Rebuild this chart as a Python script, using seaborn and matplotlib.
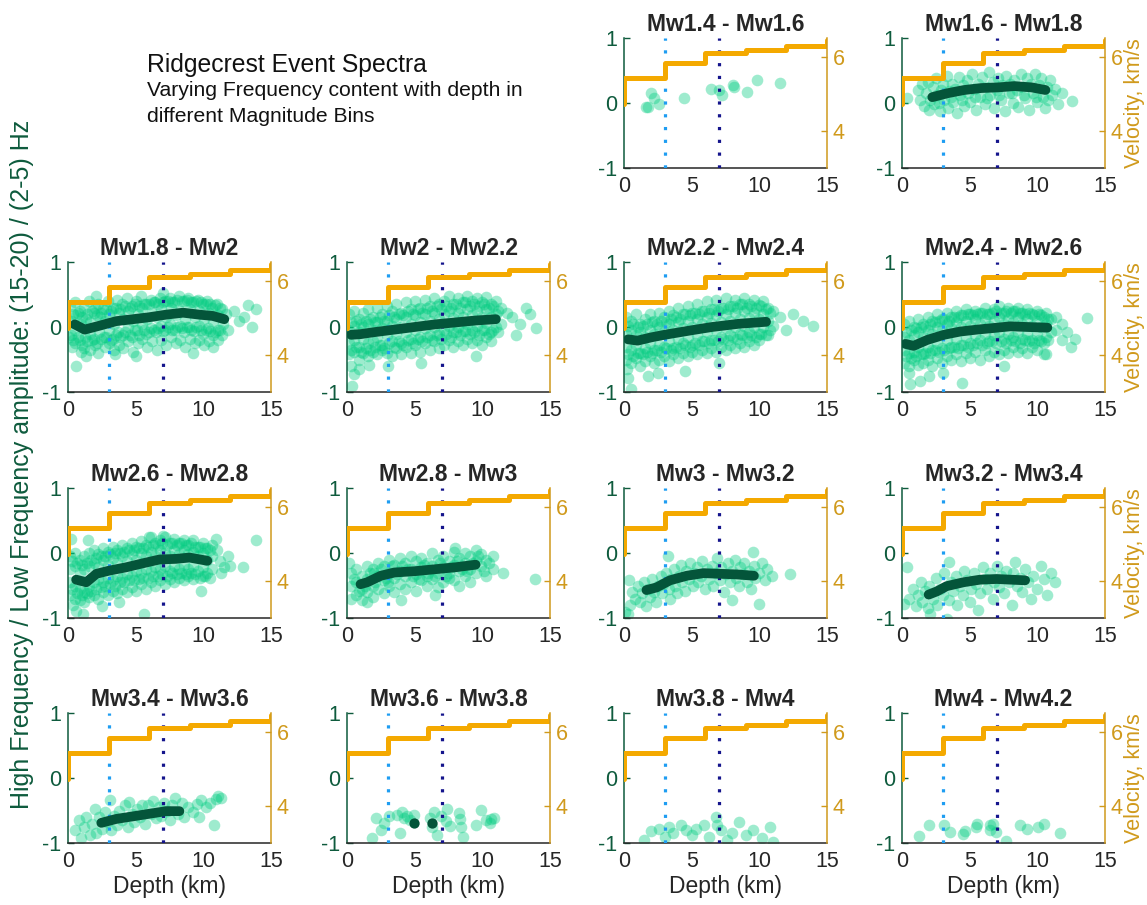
import matplotlib
matplotlib.use("Agg")
import matplotlib.pyplot as plt
import seaborn as sns
import pandas as pd

sns.set_style("white")
plt.rcParams["font.family"] = ["Liberation Sans", "DejaVu Sans"]

# ---- magnitude bins -------------------------------------------------------
bins = ["Mw1.4 - Mw1.6", "Mw1.6 - Mw1.8", "Mw1.8 - Mw2", "Mw2 - Mw2.2",
        "Mw2.2 - Mw2.4", "Mw2.4 - Mw2.6", "Mw2.6 - Mw2.8", "Mw2.8 - Mw3",
        "Mw3 - Mw3.2", "Mw3.2 - Mw3.4", "Mw3.4 - Mw3.6", "Mw3.6 - Mw3.8",
        "Mw3.8 - Mw4", "Mw4 - Mw4.2"]

# ---- 1-D velocity model (depth km, Vp km/s) ---------------------------------
vel_depth = [0, 0, 3, 6, 9, 12, 15]
vel_kms = [4.73, 5.42, 5.82, 6.10, 6.18, 6.29, 6.45]

# ---- event spectral ratios: (depth km, HF/LF ratio) ------------------------
cloud_14 = [(1.61, -0.06), (2.02, 0.15), (2.24, 0.08), (2.6, -0.01), (1.75, -0.06),
            (4.44, 0.07), (6.45, 0.21), (7.0, 0.2), (7.26, 0.12), (8.06, 0.28),
            (8.15, 0.24), (9.06, 0.17), (9.8, 0.36), (11.56, 0.31)]

cloud_16 = [(0.37, 0.08), (12.56, 0.03), (1.2, 0.2), (1.3, 0.05), (1.5, 0.3), (1.6, -0.05),
            (1.8, 0.15), (1.9, 0.32), (2.0, -0.1), (2.1, 0.05), (2.3, 0.25), (2.4, -0.02),
            (2.5, 0.38), (2.6, 0.12), (2.8, -0.12), (2.9, 0.2), (3.0, 0.3), (3.1, 0.05),
            (3.3, 0.42), (3.4, -0.08), (3.5, 0.18), (3.7, 0.3), (3.8, 0.02), (3.9, 0.22),
            (4.1, -0.15), (4.2, 0.4), (4.3, 0.12), (4.5, 0.28), (4.6, -0.05), (4.8, 0.35),
            (4.9, 0.15), (5.0, 0.02), (5.2, 0.45), (5.3, 0.22), (5.5, -0.1), (5.6, 0.3),
            (5.8, 0.1), (5.9, 0.4), (6.1, -0.02), (6.2, 0.25), (6.4, 0.47), (6.5, 0.12),
            (6.7, 0.32), (6.8, -0.08), (7.0, 0.2), (7.1, 0.38), (7.3, 0.05), (7.4, 0.28),
            (7.6, -0.12), (7.7, 0.42), (7.9, 0.15), (8.0, 0.3), (8.2, 0.0), (8.3, 0.36),
            (8.5, 0.2), (8.6, -0.06), (8.8, 0.45), (8.9, 0.25), (9.1, 0.08), (9.2, 0.38),
            (9.4, -0.1), (9.5, 0.3), (9.7, 0.15), (9.8, 0.45), (10.0, 0.02), (10.1, 0.28),
            (10.3, 0.38), (10.4, 0.1), (10.6, -0.08), (10.7, 0.25), (10.9, 0.35),
            (11.1, 0.12), (11.3, 0.22), (11.5, -0.02), (11.8, 0.15),
            (2.7, 0.0), (3.6, 0.1), (4.4, 0.05), (5.4, 0.1), (6.3, 0.08), (7.2, 0.12),
            (8.1, 0.15), (9.0, 0.12), (9.9, 0.1), (10.8, 0.05)]

cloud_18 = [(0.15, 0.32), (0.25, 0.1), (0.2, -0.12), (0.3, -0.3), (0.5, 0.38), (0.6, 0.18),
            (0.55, -0.05), (0.5, -0.25), (0.85, 0.25), (0.95, 0.05), (0.9, -0.2), (0.95, -0.38),
            (1.2, 0.3), (1.3, 0.12), (1.25, -0.15), (1.2, -0.32), (1.55, 0.4), (1.65, 0.08),
            (1.6, -0.1), (1.65, -0.35), (1.9, 0.22), (2.0, 0.3), (1.95, -0.18), (2.0, -0.28),
            (2.25, 0.35), (2.35, 0.15), (2.3, -0.08), (2.25, -0.4), (2.6, 0.28), (2.7, 0.1),
            (2.65, -0.15), (2.7, -0.3), (2.95, 0.4), (3.05, 0.2), (3.0, -0.05), (3.05, -0.25),
            (3.3, 0.3), (3.4, 0.05), (3.35, -0.18), (3.4, -0.35), (3.65, 0.42), (3.75, 0.22),
            (3.7, -0.08), (3.75, -0.28), (4.0, 0.35), (4.1, 0.12), (4.05, -0.12), (4.1, -0.32),
            (4.35, 0.45), (4.45, 0.25), (4.4, 0.0), (4.45, -0.22), (4.7, 0.32), (4.8, 0.1),
            (4.75, -0.15), (4.8, -0.38), (5.05, 0.4), (5.15, 0.2), (5.1, -0.05), (5.15, -0.25),
            (5.4, 0.48), (5.5, 0.3), (5.45, 0.05), (5.5, -0.18), (5.75, 0.35), (5.85, 0.12),
            (5.8, -0.1), (5.85, -0.3), (6.1, 0.42), (6.2, 0.22), (6.15, -0.02), (6.2, -0.22),
            (6.45, 0.38), (6.55, 0.15), (6.5, -0.08), (6.55, -0.35), (6.8, 0.45), (6.9, 0.28),
            (6.85, 0.02), (6.9, -0.2), (7.15, 0.4), (7.25, 0.15), (7.2, -0.05), (7.25, -0.28),
            (7.5, 0.45), (7.6, 0.3), (7.55, 0.05), (7.6, -0.15), (7.85, 0.38), (7.95, 0.18),
            (7.9, -0.04), (7.95, -0.25), (8.2, 0.48), (8.3, 0.25), (8.25, 0.02), (8.3, -0.2),
            (8.55, 0.4), (8.65, 0.12), (8.6, -0.08), (8.65, -0.3), (8.9, 0.45), (9.0, 0.28),
            (8.95, 0.0), (9.0, -0.18), (9.25, 0.38), (9.35, 0.15), (9.3, -0.06), (9.35, -0.25),
            (9.6, 0.42), (9.7, 0.25), (9.65, 0.02), (9.7, -0.2), (9.95, 0.35), (10.05, 0.12),
            (10.0, -0.1), (10.05, -0.28), (10.3, 0.4), (10.4, 0.22), (10.35, -0.02),
            (10.4, -0.22), (10.65, 0.3), (10.75, 0.1), (10.7, -0.12), (10.75, -0.3),
            (11.0, 0.35), (11.1, 0.18), (11.05, -0.05), (11.1, -0.2), (11.35, 0.28),
            (11.45, 0.05), (11.4, -0.12), (11.7, 0.2), (11.8, -0.05), (0.6, -0.6), (1.35, -0.45),
            (13.3, 0.34), (13.9, 0.27), (13.6, 0.0), (12.6, 0.1), (12.3, 0.25), (13.0, 0.15),
            (0.05, -0.15), (7.0, 0.52), (2.1, 0.47), (3.5, -0.42), (5.0, -0.45), (9.2, -0.4),
            (0.37, 0.2), (0.37, -0.2), (0.72, 0.22), (0.72, -0.15), (1.07, 0.15), (1.07, -0.28),
            (1.42, 0.2), (1.42, -0.22), (1.77, 0.25), (1.77, -0.2), (2.12, 0.18), (2.12, -0.25),
            (2.47, 0.22), (2.47, -0.18), (2.82, 0.28), (2.82, -0.15), (3.17, 0.25), (3.17, -0.2),
            (3.52, 0.3), (3.52, -0.12), (3.87, 0.28), (3.87, -0.15), (4.22, 0.32), (4.22, -0.08),
            (4.57, 0.3), (4.57, -0.12), (4.92, 0.35), (4.92, -0.05), (5.27, 0.32), (5.27, -0.12),
            (5.62, 0.36), (5.62, -0.05), (5.97, 0.35), (5.97, -0.08), (6.32, 0.38), (6.32, -0.05),
            (6.67, 0.36), (6.67, -0.02), (7.02, 0.38), (7.02, -0.06), (7.37, 0.4), (7.37, 0.0),
            (7.72, 0.38), (7.72, -0.04), (8.07, 0.42), (8.07, 0.0), (8.42, 0.4), (8.42, -0.02),
            (8.77, 0.42), (8.77, 0.0), (9.12, 0.38), (9.12, -0.04), (9.47, 0.4), (9.47, 0.0),
            (9.82, 0.38), (9.82, -0.05), (10.17, 0.36), (10.17, -0.04), (10.52, 0.35),
            (10.52, -0.06), (10.87, 0.34), (10.87, -0.08), (11.22, 0.3), (11.22, -0.05)]

cloud_20 = [(0.15, 0.2), (0.15, -0.05), (0.15, -0.25), (0.15, -0.42), (0.5, 0.25), (0.5, 0.02),
            (0.5, -0.2), (0.5, -0.38), (0.85, 0.12), (0.85, -0.08), (0.85, -0.3), (0.85, -0.5),
            (1.2, 0.22), (1.2, 0.0), (1.2, -0.18), (1.2, -0.4), (1.55, 0.28), (1.55, 0.05),
            (1.55, -0.25), (1.55, -0.45), (1.9, 0.15), (1.9, -0.05), (1.9, -0.22), (1.9, -0.38),
            (2.25, 0.3), (2.25, 0.08), (2.25, -0.15), (2.25, -0.42), (2.6, 0.2), (2.6, -0.02),
            (2.6, -0.28), (2.6, -0.35), (2.95, 0.32), (2.95, 0.1), (2.95, -0.12), (2.95, -0.4),
            (3.3, 0.25), (3.3, 0.02), (3.3, -0.22), (3.3, -0.45), (3.65, 0.35), (3.65, 0.12),
            (3.65, -0.1), (3.65, -0.32), (4.0, 0.22), (4.0, 0.0), (4.0, -0.25), (4.0, -0.42),
            (4.35, 0.38), (4.35, 0.15), (4.35, -0.08), (4.35, -0.3), (4.7, 0.28), (4.7, 0.05),
            (4.7, -0.18), (4.7, -0.4), (5.05, 0.4), (5.05, 0.18), (5.05, -0.05), (5.05, -0.28),
            (5.4, 0.3), (5.4, 0.08), (5.4, -0.15), (5.4, -0.38), (5.75, 0.42), (5.75, 0.2),
            (5.75, -0.02), (5.75, -0.25), (6.1, 0.32), (6.1, 0.1), (6.1, -0.12), (6.1, -0.35),
            (6.45, 0.45), (6.45, 0.22), (6.45, 0.0), (6.45, -0.22), (6.8, 0.35), (6.8, 0.12),
            (6.8, -0.1), (6.8, -0.32), (7.15, 0.4), (7.15, 0.2), (7.15, -0.04), (7.15, -0.28),
            (7.5, 0.48), (7.5, 0.25), (7.5, 0.02), (7.5, -0.2), (7.85, 0.36), (7.85, 0.14),
            (7.85, -0.08), (7.85, -0.3), (8.2, 0.45), (8.2, 0.22), (8.2, 0.0), (8.2, -0.22),
            (8.55, 0.38), (8.55, 0.15), (8.55, -0.06), (8.55, -0.28), (8.9, 0.48), (8.9, 0.28),
            (8.9, 0.05), (8.9, -0.18), (9.25, 0.4), (9.25, 0.18), (9.25, -0.04), (9.25, -0.25),
            (9.6, 0.45), (9.6, 0.25), (9.6, 0.02), (9.6, -0.2), (9.95, 0.38), (9.95, 0.15),
            (9.95, -0.05), (9.95, -0.28), (10.3, 0.46), (10.3, 0.28), (10.3, 0.06), (10.3, -0.15),
            (10.65, 0.35), (10.65, 0.15), (10.65, -0.08), (10.65, -0.22), (11.0, 0.4),
            (11.0, 0.2), (11.0, 0.0), (11.35, 0.3), (11.35, 0.05), (11.8, 0.22), (12.2, 0.15),
            (12.5, -0.12), (12.8, 0.05), (13.5, 0.2), (14.0, -0.02), (13.2, 0.3), (0.3, -0.6),
            (0.5, -0.72), (0.4, -0.9), (0.9, -0.65), (1.6, -0.58), (3.0, -0.6), (5.5, -0.55),
            (9.5, -0.45),
            (0.32, 0.08), (0.32, -0.35), (0.67, 0.1), (0.67, -0.3), (1.02, 0.05), (1.02, -0.38),
            (1.37, 0.1), (1.37, -0.32), (1.72, 0.12), (1.72, -0.35), (2.07, 0.08), (2.07, -0.3),
            (2.42, 0.15), (2.42, -0.28), (2.77, 0.1), (2.77, -0.32), (3.12, 0.18), (3.12, -0.25),
            (3.47, 0.15), (3.47, -0.3), (3.82, 0.2), (3.82, -0.22), (4.17, 0.18), (4.17, -0.28),
            (4.52, 0.25), (4.52, -0.2), (4.87, 0.2), (4.87, -0.25), (5.22, 0.28), (5.22, -0.18),
            (5.57, 0.22), (5.57, -0.22), (5.92, 0.3), (5.92, -0.15), (6.27, 0.25), (6.27, -0.2),
            (6.62, 0.32), (6.62, -0.12), (6.97, 0.28), (6.97, -0.18), (7.32, 0.32), (7.32, -0.1),
            (7.67, 0.3), (7.67, -0.15), (8.02, 0.35), (8.02, -0.08), (8.37, 0.3), (8.37, -0.12),
            (8.72, 0.38), (8.72, -0.06), (9.07, 0.32), (9.07, -0.1), (9.42, 0.36), (9.42, -0.08),
            (9.77, 0.32), (9.77, -0.12), (10.12, 0.35), (10.12, -0.05), (10.47, 0.3),
            (10.47, -0.1), (10.82, 0.32), (10.82, -0.05), (11.17, 0.25), (11.17, -0.08)]

cloud_22 = [(0.15, 0.15), (0.15, -0.1), (0.15, -0.3), (0.15, -0.5), (0.5, 0.1), (0.5, -0.05),
            (0.5, -0.35), (0.5, -0.55), (0.85, 0.2), (0.85, -0.12), (0.85, -0.28), (0.85, -0.48),
            (1.2, 0.05), (1.2, -0.08), (1.2, -0.4), (1.2, -0.6), (1.55, 0.12), (1.55, -0.15),
            (1.55, -0.32), (1.55, -0.52), (1.9, 0.2), (1.9, -0.05), (1.9, -0.25), (1.9, -0.45),
            (2.25, 0.1), (2.25, -0.1), (2.25, -0.35), (2.25, -0.55), (2.6, 0.22), (2.6, 0.0),
            (2.6, -0.28), (2.6, -0.5), (2.95, 0.15), (2.95, -0.08), (2.95, -0.3), (2.95, -0.45),
            (3.3, 0.25), (3.3, 0.05), (3.3, -0.22), (3.3, -0.52), (3.65, 0.18), (3.65, -0.05),
            (3.65, -0.32), (3.65, -0.42), (4.0, 0.3), (4.0, 0.08), (4.0, -0.18), (4.0, -0.48),
            (4.35, 0.2), (4.35, -0.02), (4.35, -0.25), (4.35, -0.4), (4.7, 0.32), (4.7, 0.1),
            (4.7, -0.15), (4.7, -0.45), (5.05, 0.22), (5.05, 0.0), (5.05, -0.28), (5.05, -0.38),
            (5.4, 0.35), (5.4, 0.12), (5.4, -0.12), (5.4, -0.42), (5.75, 0.25), (5.75, 0.05),
            (5.75, -0.22), (5.75, -0.35), (6.1, 0.4), (6.1, 0.15), (6.1, -0.08), (6.1, -0.4),
            (6.45, 0.28), (6.45, 0.06), (6.45, -0.2), (6.45, -0.32), (6.8, 0.42), (6.8, 0.18),
            (6.8, -0.05), (6.8, -0.38), (7.15, 0.3), (7.15, 0.08), (7.15, -0.15), (7.15, -0.3),
            (7.5, 0.45), (7.5, 0.2), (7.5, -0.02), (7.5, -0.35), (7.85, 0.32), (7.85, 0.1),
            (7.85, -0.12), (7.85, -0.28), (8.2, 0.42), (8.2, 0.22), (8.2, 0.0), (8.2, -0.32),
            (8.55, 0.35), (8.55, 0.12), (8.55, -0.1), (8.55, -0.25), (8.9, 0.45), (8.9, 0.25),
            (8.9, 0.02), (8.9, -0.3), (9.25, 0.36), (9.25, 0.14), (9.25, -0.08), (9.25, -0.22),
            (9.6, 0.42), (9.6, 0.22), (9.6, 0.0), (9.6, -0.28), (9.95, 0.34), (9.95, 0.12),
            (9.95, -0.1), (9.95, -0.2), (10.3, 0.4), (10.3, 0.2), (10.3, 0.0), (10.65, 0.3),
            (10.65, 0.1), (10.65, -0.12), (11.0, 0.25), (11.0, 0.02), (11.5, 0.15), (12.0, -0.05),
            (12.5, 0.2), (13.2, 0.1), (14.0, 0.02), (0.3, -0.78), (0.5, -0.95), (0.2, -0.65),
            (1.8, -0.75), (2.5, -0.7), (4.5, -0.68), (7.0, -0.55),
            (0.32, 0.02), (0.32, -0.42), (0.67, 0.05), (0.67, -0.45), (1.02, 0.0), (1.02, -0.4),
            (1.37, 0.02), (1.37, -0.42), (1.72, 0.05), (1.72, -0.38), (2.07, 0.08), (2.07, -0.4),
            (2.42, 0.05), (2.42, -0.35), (2.77, 0.1), (2.77, -0.38), (3.12, 0.08), (3.12, -0.32),
            (3.47, 0.12), (3.47, -0.35), (3.82, 0.15), (3.82, -0.3), (4.17, 0.12), (4.17, -0.32),
            (4.52, 0.2), (4.52, -0.28), (4.87, 0.18), (4.87, -0.3), (5.22, 0.22), (5.22, -0.25),
            (5.57, 0.2), (5.57, -0.28), (5.92, 0.25), (5.92, -0.22), (6.27, 0.22), (6.27, -0.25),
            (6.62, 0.28), (6.62, -0.2), (6.97, 0.25), (6.97, -0.22), (7.32, 0.3), (7.32, -0.18),
            (7.67, 0.28), (7.67, -0.2), (8.02, 0.32), (8.02, -0.15), (8.37, 0.3), (8.37, -0.18),
            (8.72, 0.35), (8.72, -0.12), (9.07, 0.3), (9.07, -0.15), (9.42, 0.32), (9.42, -0.12),
            (9.77, 0.3), (9.77, -0.15), (10.12, 0.32), (10.12, -0.1), (10.47, 0.28),
            (10.47, -0.12), (10.82, 0.22), (10.82, -0.05)]

cloud_24 = [(0.15, 0.05), (0.15, -0.15), (0.15, -0.35), (0.15, -0.55), (0.5, 0.1), (0.5, -0.2),
            (0.5, -0.4), (0.5, -0.6), (0.85, 0.0), (0.85, -0.12), (0.85, -0.38), (0.85, -0.5),
            (1.2, 0.12), (1.2, -0.08), (1.2, -0.3), (1.2, -0.58), (1.55, 0.05), (1.55, -0.15),
            (1.55, -0.42), (1.55, -0.55), (1.9, 0.15), (1.9, -0.05), (1.9, -0.3), (1.9, -0.5),
            (2.25, 0.1), (2.25, -0.1), (2.25, -0.35), (2.25, -0.6), (2.6, 0.2), (2.6, 0.0),
            (2.6, -0.25), (2.6, -0.48), (2.95, 0.12), (2.95, -0.05), (2.95, -0.32), (2.95, -0.55),
            (3.3, 0.22), (3.3, 0.05), (3.3, -0.2), (3.3, -0.45), (3.65, 0.15), (3.65, -0.02),
            (3.65, -0.3), (3.65, -0.5), (4.0, 0.25), (4.0, 0.08), (4.0, -0.18), (4.0, -0.42),
            (4.35, 0.18), (4.35, 0.0), (4.35, -0.28), (4.35, -0.52), (4.7, 0.28), (4.7, 0.1),
            (4.7, -0.15), (4.7, -0.4), (5.05, 0.2), (5.05, 0.02), (5.05, -0.25), (5.05, -0.48),
            (5.4, 0.25), (5.4, 0.12), (5.4, -0.12), (5.4, -0.38), (5.75, 0.22), (5.75, 0.05),
            (5.75, -0.2), (5.75, -0.5), (6.1, 0.3), (6.1, 0.12), (6.1, -0.1), (6.1, -0.35),
            (6.45, 0.2), (6.45, 0.02), (6.45, -0.22), (6.45, -0.45), (6.8, 0.28), (6.8, 0.1),
            (6.8, -0.12), (6.8, -0.38), (7.15, 0.32), (7.15, 0.15), (7.15, -0.08), (7.15, -0.42),
            (7.5, 0.22), (7.5, 0.05), (7.5, -0.18), (7.5, -0.35), (7.85, 0.3), (7.85, 0.12),
            (7.85, -0.1), (7.85, -0.4), (8.2, 0.25), (8.2, 0.08), (8.2, -0.15), (8.2, -0.3),
            (8.55, 0.3), (8.55, 0.15), (8.55, -0.08), (8.55, -0.38), (8.9, 0.22), (8.9, 0.05),
            (8.9, -0.18), (8.9, -0.32), (9.25, 0.28), (9.25, 0.12), (9.25, -0.1), (9.25, -0.4),
            (9.6, 0.2), (9.6, 0.02), (9.6, -0.2), (9.6, -0.3), (9.95, 0.25), (9.95, 0.1),
            (9.95, -0.12), (9.95, -0.35), (10.3, 0.18), (10.3, 0.0), (10.3, -0.22),
            (10.65, 0.22), (10.65, 0.05), (10.65, -0.15), (10.65, -0.42), (11.0, 0.12),
            (11.0, -0.08), (11.4, 0.15), (11.4, -0.05), (11.8, 0.05), (11.8, -0.2), (12.2, -0.07),
            (12.8, -0.18), (13.7, 0.14), (12.5, -0.3), (0.5, -0.7), (0.6, -0.88), (1.36, -0.83),
            (4.4, -0.86), (10.5, -0.42), (3.0, -0.7), (2.0, -0.75), (7.5, -0.6),
            (0.32, -0.08), (0.32, -0.45), (0.67, -0.05), (0.67, -0.48), (1.02, -0.02),
            (1.02, -0.45), (1.37, 0.0), (1.37, -0.42), (1.72, 0.02), (1.72, -0.4), (2.07, 0.05),
            (2.07, -0.4), (2.42, 0.08), (2.42, -0.35), (2.77, 0.1), (2.77, -0.38), (3.12, 0.12),
            (3.12, -0.35), (3.47, 0.1), (3.47, -0.32), (3.82, 0.15), (3.82, -0.3), (4.17, 0.15),
            (4.17, -0.32), (4.52, 0.18), (4.52, -0.28), (4.87, 0.2), (4.87, -0.3), (5.22, 0.18),
            (5.22, -0.28), (5.57, 0.2), (5.57, -0.25), (5.92, 0.22), (5.92, -0.28), (6.27, 0.2),
            (6.27, -0.25), (6.62, 0.22), (6.62, -0.22), (6.97, 0.24), (6.97, -0.25), (7.32, 0.22),
            (7.32, -0.22), (7.67, 0.25), (7.67, -0.25), (8.02, 0.22), (8.02, -0.2), (8.37, 0.25),
            (8.37, -0.22), (8.72, 0.22), (8.72, -0.25), (9.07, 0.2), (9.07, -0.2), (9.42, 0.22),
            (9.42, -0.22), (9.77, 0.18), (9.77, -0.25), (10.12, 0.2), (10.12, -0.2),
            (10.47, 0.15), (10.47, -0.25), (10.82, 0.12), (10.82, -0.2)]

cloud_26 = [(0.15, -0.05), (0.15, -0.25), (0.15, -0.45), (0.15, -0.65), (0.5, 0.0), (0.5, -0.2),
            (0.5, -0.5), (0.5, -0.7), (0.85, -0.1), (0.85, -0.3), (0.85, -0.55), (0.85, -0.72),
            (1.2, -0.05), (1.2, -0.25), (1.2, -0.6), (1.2, -0.75), (1.55, 0.0), (1.55, -0.2),
            (1.55, -0.5), (1.55, -0.68), (1.9, 0.05), (1.9, -0.15), (1.9, -0.45), (1.9, -0.65),
            (2.25, -0.02), (2.25, -0.22), (2.25, -0.4), (2.25, -0.7), (2.6, 0.08), (2.6, -0.1),
            (2.6, -0.45), (2.6, -0.6), (2.95, 0.02), (2.95, -0.18), (2.95, -0.38), (2.95, -0.65),
            (3.3, 0.1), (3.3, -0.08), (3.3, -0.42), (3.3, -0.58), (3.65, 0.05), (3.65, -0.15),
            (3.65, -0.35), (3.65, -0.62), (4.0, 0.12), (4.0, -0.05), (4.0, -0.38), (4.0, -0.55),
            (4.35, 0.08), (4.35, -0.12), (4.35, -0.32), (4.35, -0.6), (4.7, 0.15), (4.7, -0.02),
            (4.7, -0.35), (4.7, -0.52), (5.05, 0.1), (5.05, -0.1), (5.05, -0.28), (5.05, -0.58),
            (5.4, 0.18), (5.4, 0.0), (5.4, -0.3), (5.4, -0.48), (5.75, 0.12), (5.75, -0.05),
            (5.75, -0.25), (5.75, -0.55), (6.1, 0.24), (6.1, 0.02), (6.1, -0.28), (6.1, -0.45),
            (6.45, 0.15), (6.45, -0.05), (6.45, -0.22), (6.45, -0.5), (6.8, 0.2), (6.8, 0.05),
            (6.8, -0.25), (6.8, -0.42), (7.15, 0.25), (7.15, 0.0), (7.15, -0.2), (7.15, -0.48),
            (7.5, 0.15), (7.5, -0.05), (7.5, -0.28), (7.5, -0.4), (7.85, 0.22), (7.85, 0.05),
            (7.85, -0.2), (7.85, -0.45), (8.2, 0.15), (8.2, -0.02), (8.2, -0.25), (8.2, -0.38),
            (8.55, 0.2), (8.55, 0.05), (8.55, -0.18), (8.55, -0.42), (8.9, 0.12), (8.9, -0.02),
            (8.9, -0.25), (8.9, -0.35), (9.25, 0.2), (9.25, 0.02), (9.25, -0.2), (9.25, -0.4),
            (9.6, 0.1), (9.6, -0.05), (9.6, -0.28), (9.95, 0.15), (9.95, 0.0), (9.95, -0.22),
            (9.95, -0.35), (10.3, 0.08), (10.3, -0.1), (10.3, -0.3), (10.65, 0.12), (10.65, -0.05),
            (10.65, -0.25), (10.9, 0.22), (11.0, 0.05), (11.2, -0.12), (11.5, -0.22),
            (11.3, -0.3), (11.8, -0.05), (12.0, -0.2), (12.9, -0.22), (13.9, 0.2), (0.25, 0.22),
            (1.47, 0.2), (6.0, 0.24), (7.0, 0.26), (9.8, -0.58), (5.65, -0.94), (0.6, -0.89),
            (1.1, -0.94), (0.4, -0.8), (2.5, -0.82), (3.8, -0.75),
            (0.32, -0.12), (0.32, -0.55), (0.67, -0.15), (0.67, -0.62), (1.02, -0.18),
            (1.02, -0.65), (1.37, -0.15), (1.37, -0.62), (1.72, -0.1), (1.72, -0.58),
            (2.07, -0.08), (2.07, -0.55), (2.42, -0.05), (2.42, -0.52), (2.77, -0.05),
            (2.77, -0.5), (3.12, -0.02), (3.12, -0.48), (3.47, 0.0), (3.47, -0.5), (3.82, 0.0),
            (3.82, -0.45), (4.17, 0.02), (4.17, -0.45), (4.52, 0.05), (4.52, -0.42), (4.87, 0.05),
            (4.87, -0.42), (5.22, 0.08), (5.22, -0.4), (5.57, 0.08), (5.57, -0.38), (5.92, 0.1),
            (5.92, -0.38), (6.27, 0.12), (6.27, -0.35), (6.62, 0.12), (6.62, -0.35), (6.97, 0.15),
            (6.97, -0.32), (7.32, 0.12), (7.32, -0.35), (7.67, 0.15), (7.67, -0.3), (8.02, 0.12),
            (8.02, -0.32), (8.37, 0.15), (8.37, -0.3), (8.72, 0.12), (8.72, -0.32), (9.07, 0.15),
            (9.07, -0.3), (9.42, 0.1), (9.42, -0.32), (9.77, 0.1), (9.77, -0.38), (10.12, 0.08),
            (10.12, -0.35), (10.47, 0.05), (10.47, -0.38)]

cloud_28 = [(0.3, -0.3), (0.3, -0.5), (0.3, -0.7), (0.7, -0.25), (0.7, -0.45), (0.7, -0.65),
            (1.1, -0.35), (1.1, -0.55), (1.1, -0.72), (1.5, -0.2), (1.5, -0.4), (1.5, -0.6),
            (1.9, -0.25), (1.9, -0.5), (1.9, -0.68), (2.3, -0.15), (2.3, -0.35), (2.3, -0.55),
            (2.7, -0.2), (2.7, -0.42), (2.7, -0.62), (3.1, -0.1), (3.1, -0.3), (3.1, -0.5),
            (3.5, -0.18), (3.5, -0.38), (3.5, -0.6), (3.9, -0.08), (3.9, -0.28), (3.9, -0.48),
            (4.3, -0.15), (4.3, -0.35), (4.3, -0.55), (4.7, -0.05), (4.7, -0.25), (4.7, -0.45),
            (5.1, -0.12), (5.1, -0.32), (5.1, -0.58), (5.5, -0.08), (5.5, -0.22), (5.5, -0.42),
            (5.9, -0.15), (5.9, -0.35), (5.9, -0.5), (6.3, 0.0), (6.3, -0.2), (6.3, -0.4),
            (6.7, -0.1), (6.7, -0.3), (6.7, -0.52), (7.1, -0.05), (7.1, -0.22), (7.1, -0.45),
            (7.5, -0.12), (7.5, -0.3), (7.5, -0.38), (7.9, 0.02), (7.9, -0.18), (7.9, -0.42),
            (8.3, -0.08), (8.3, -0.28), (8.3, -0.5), (8.7, 0.0), (8.7, -0.15), (8.7, -0.35),
            (9.1, -0.05), (9.1, -0.25), (9.1, -0.45), (9.5, 0.05), (9.5, -0.12), (9.5, -0.3),
            (9.9, -0.02), (9.9, -0.2), (10.3, -0.1), (10.3, -0.35), (10.8, -0.05), (10.8, -0.25),
            (11.5, -0.3), (13.9, -0.4), (0.15, -0.15), (1.5, -0.75), (4.0, -0.72), (6.5, -0.65),
            (8.0, 0.08), (2.0, -0.3), (3.0, -0.45), (4.5, -0.25), (5.3, -0.4), (6.0, -0.3),
            (7.3, -0.35), (8.5, -0.25), (9.3, -0.15),
            (0.5, -0.4), (0.9, -0.58), (1.3, -0.5), (1.7, -0.3), (2.1, -0.45), (2.5, -0.25),
            (2.9, -0.38), (3.3, -0.2), (3.7, -0.32), (4.1, -0.2), (4.9, -0.35), (5.7, -0.18),
            (6.5, -0.35), (6.9, -0.15), (7.7, -0.22), (8.1, -0.12), (8.9, -0.28), (9.7, -0.05),
            (10.1, -0.28), (10.5, -0.15)]

cloud_30 = [(0.05, -0.9), (0.3, -0.94), (0.42, -0.8), (0.37, -0.42), (0.6, -0.6), (0.8, -0.7),
            (1.0, -0.5), (1.2, -0.75), (1.3, -0.62), (1.5, -0.45), (1.6, -0.82), (1.8, -0.55),
            (1.9, -0.68), (2.1, -0.4), (2.2, -0.6), (2.4, -0.75), (2.5, -0.5), (2.7, -0.35),
            (2.8, -0.62), (2.9, -0.48), (3.1, -0.3), (3.25, -0.04), (3.3, -0.55), (3.4, -0.7),
            (3.5, -0.4), (3.7, -0.25), (3.8, -0.5), (3.9, -0.62), (4.1, -0.35), (4.2, -0.18),
            (4.3, -0.45), (4.5, -0.58), (4.6, -0.28), (4.8, -0.4), (4.9, -0.15), (5.1, -0.5),
            (5.2, -0.3), (5.4, -0.22), (5.5, -0.45), (5.7, -0.35), (5.8, -0.12), (6.0, -0.55),
            (6.1, -0.25), (6.3, -0.4), (6.5, -0.2), (6.6, -0.5), (6.8, -0.3), (6.9, -0.08),
            (7.1, -0.42), (7.2, -0.22), (7.4, -0.6), (7.5, -0.32), (7.7, -0.15), (7.8, -0.45),
            (8.0, -0.73), (8.0, -0.28), (8.2, -0.1), (8.3, -0.38), (8.5, -0.5), (8.6, -0.22),
            (8.8, -0.32), (8.9, -0.15), (9.1, -0.45), (9.2, -0.28), (9.4, -0.55), (9.5, 0.02),
            (9.6, -0.2), (9.7, -0.38), (9.97, -0.78), (10.0, -0.3), (10.2, -0.15), (10.4, -0.42),
            (10.6, -0.25), (10.9, -0.35), (12.3, -0.32)]

cloud_32 = [(0.12, -0.79), (0.37, -0.21), (0.5, -0.7), (0.8, -0.55), (1.0, -0.82), (1.2, -0.65),
            (1.4, -0.45), (1.5, -0.75), (1.7, -0.58), (1.9, -0.85), (2.1, -0.94), (2.0, -0.5),
            (2.3, -0.7), (2.5, -0.38), (2.6, -0.8), (2.8, -0.55), (3.0, -0.65), (3.1, -0.3),
            (3.3, -1.02), (3.44, -0.14), (3.5, -0.72), (3.6, -0.45), (3.8, -0.58), (4.0, -0.35),
            (4.1, -0.8), (4.3, -0.5), (4.5, -0.65), (4.6, -0.28), (4.8, -0.42), (5.0, -0.75),
            (5.1, -0.55), (5.3, -0.3), (5.5, -0.48), (5.6, -0.88), (5.8, -0.62), (6.0, -0.22),
            (6.1, -0.4), (6.3, -0.55), (6.5, -0.3), (6.7, -0.7), (6.8, -0.45), (7.0, -0.2),
            (7.2, -0.52), (7.3, -0.35), (7.5, -0.62), (7.7, -0.28), (7.9, -0.45), (8.1, -0.8),
            (8.2, -0.3), (8.36, -0.14), (8.5, -0.5), (8.7, -0.38), (8.9, -0.6), (9.1, -0.25),
            (9.3, -0.45), (9.5, -0.7), (9.7, -0.35), (10.0, -0.55), (10.3, -0.2), (10.5, -0.4),
            (10.7, -0.65), (11.0, -0.3), (11.3, -0.45)]

cloud_34 = [(0.49, -0.8), (0.98, -0.93), (1.6, -0.88), (1.35, -0.6), (1.97, -0.47), (0.8, -0.65),
            (1.2, -0.75), (1.8, -0.7), (2.1, -0.85), (2.3, -0.6), (2.5, -0.78), (2.7, -0.52),
            (2.9, -0.68), (3.07, -0.34), (3.2, -0.8), (3.4, -0.58), (3.6, -0.72), (3.8, -0.5),
            (4.0, -0.65), (4.2, -0.42), (4.5, -0.37), (4.4, -0.75), (4.7, -0.55), (4.9, -0.68),
            (5.1, -0.48), (5.3, -0.6), (5.5, -0.42), (5.7, -0.7), (5.9, -0.42), (6.1, -0.55),
            (6.3, -0.35), (6.5, -0.62), (6.7, -0.45), (6.9, -0.58), (7.1, -0.38), (7.3, -0.5),
            (7.5, -0.65), (7.7, -0.42), (7.9, -0.3), (8.1, -0.55), (8.4, -0.38), (8.6, -0.6),
            (8.9, -0.45), (9.2, -0.52), (9.5, -0.4), (9.7, -0.6), (9.8, -0.34), (10.2, -0.45),
            (10.5, -0.38), (10.8, -0.73), (10.9, -0.32), (11.1, -0.28), (11.3, -0.3)]

cloud_36 = [(1.85, -0.92), (2.17, -0.62), (2.52, -0.8), (2.77, -0.69), (3.09, -0.59),
            (3.7, -0.57), (3.95, -0.85), (4.07, -0.52), (4.44, -0.59), (4.69, -0.64),
            (4.94, -0.57), (6.3, -0.75), (6.42, -0.52), (6.62, -0.87), (6.91, -0.59),
            (7.4, -0.47), (7.6, -0.74), (8.27, -0.54), (8.35, -0.63), (8.4, -0.76), (8.6, -0.9),
            (9.5, -0.73), (9.93, -0.49), (10.25, -0.65), (10.67, -0.63), (10.86, -0.61),
            (10.56, -0.69), (6.1, -0.62), (7.3, -0.66), (4.2, -0.62)]

cloud_38 = [(1.5, -0.95), (2.0, -0.82), (2.6, -0.78), (3.0, -0.9), (3.3, -0.75), (3.6, -0.85),
            (4.2, -0.72), (4.6, -0.8), (5.0, -0.88), (5.3, -0.78), (5.9, -0.72), (6.3, -0.9),
            (6.8, -0.6), (6.9, -0.72), (7.2, -0.8), (7.6, -0.95), (8.0, -0.85), (8.5, -0.68),
            (9.0, -0.88), (9.5, -0.8), (10.2, -0.92), (10.8, -0.75), (11.0, -0.98)]

cloud_40 = [(1.23, -0.89), (1.97, -0.73), (3.12, -0.72), (3.57, -0.83), (4.5, -0.86),
            (4.67, -0.82), (5.48, -0.76), (5.53, -0.7), (6.47, -0.73), (6.47, -0.8), (6.7, -0.7),
            (6.96, -0.83), (7.7, -0.97), (8.73, -0.73), (9.2, -0.78), (10.08, -0.75),
            (10.5, -0.7), (11.68, -0.85)]

# ---- running median of the ratio with depth --------------------------------
trend_14 = []
trend_16 = [(2.24, 0.09), (3.36, 0.15), (4.6, 0.2), (5.85, 0.23), (7.1, 0.24), (8.3, 0.26),
            (9.58, 0.24), (10.6, 0.2)]
trend_18 = [(0.5, 0.04), (1.23, -0.04), (2.33, 0.02), (3.56, 0.09), (4.8, 0.12), (6.0, 0.15),
            (7.25, 0.19), (8.5, 0.22), (9.7, 0.19), (10.7, 0.17), (11.55, 0.12)]
trend_20 = [(0.3, -0.12), (1.0, -0.11), (2.0, -0.08), (3.5, -0.04), (5.0, 0.0), (6.5, 0.04),
            (8.0, 0.07), (9.5, 0.1), (11.0, 0.12)]
trend_22 = [(0.3, -0.19), (1.0, -0.21), (2.0, -0.16), (3.0, -0.12), (5.0, -0.05), (6.5, 0.0),
            (8.5, 0.05), (10.5, 0.08)]
trend_24 = [(0.25, -0.26), (0.86, -0.29), (1.85, -0.2), (3.1, -0.12), (4.3, -0.07),
            (5.55, -0.04), (6.8, -0.015), (8.0, 0.01), (9.26, 0.0), (10.74, -0.01)]
trend_26 = [(0.6, -0.41), (1.35, -0.45), (2.1, -0.32), (3.07, -0.27), (4.3, -0.22),
            (5.5, -0.16), (6.76, -0.1), (8.0, -0.09), (8.97, -0.07), (10.3, -0.12)]
trend_28 = [(1.0, -0.48), (1.5, -0.45), (2.5, -0.35), (3.5, -0.3), (5.0, -0.28),
            (6.5, -0.25), (8.0, -0.22), (9.5, -0.18)]
trend_30 = [(1.66, -0.57), (2.4, -0.53), (3.4, -0.42), (4.64, -0.35), (5.88, -0.31),
            (7.1, -0.32), (8.36, -0.33), (9.6, -0.35)]
trend_32 = [(1.97, -0.64), (2.58, -0.59), (3.3, -0.51), (4.55, -0.45), (5.78, -0.41),
            (7.0, -0.4), (8.0, -0.41), (9.1, -0.42)]
trend_34 = [(2.46, -0.69), (3.56, -0.63), (4.8, -0.59), (6.02, -0.55), (7.25, -0.51),
            (8.23, -0.51)]
trend_36 = [(4.94, -0.69), (6.3, -0.69)]
trend_38 = []
trend_40 = []

clouds = [cloud_14, cloud_16, cloud_18, cloud_20, cloud_22, cloud_24, cloud_26,
          cloud_28, cloud_30, cloud_32, cloud_34, cloud_36, cloud_38, cloud_40]
trends = [trend_14, trend_16, trend_18, trend_20, trend_22, trend_24, trend_26,
          trend_28, trend_30, trend_32, trend_34, trend_36, trend_38, trend_40]

# grid slot (row, col) for every bin; the first row starts in column 2
slots = [(0, 2), (0, 3)] + [(r, c) for r in (1, 2, 3) for c in range(4)]

# ---- styling ----------------------------------------------------------------
C_PTS = "#00CC80"
C_TREND = "#04553A"
C_LEFT = "#0E5B3D"
C_VEL = "#F4A900"
C_RIGHT = "#D09A1C"
C_SHALLOW = "#1E9DF2"
C_DEEP = "#14148C"
C_XAX = "#262626"

W, H = 1147, 905
fig = plt.figure(figsize=(W / 100, H / 100), dpi=100)

col_left = [68, 347, 624, 902]
row_top = [38, 262, 488, 713]
ax_w, ax_h = 203, 130

for name, cloud, trend, (r, c) in zip(bins, clouds, trends, slots):
    ax = fig.add_axes([col_left[c] / W, 1 - (row_top[r] + ax_h) / H, ax_w / W, ax_h / H])
    df = pd.DataFrame(cloud, columns=["depth", "ratio"])
    sns.scatterplot(data=df, x="depth", y="ratio", ax=ax, color=C_PTS, alpha=0.38,
                    s=70, linewidth=0, zorder=2)
    ax.axvline(3, color=C_SHALLOW, lw=2.3, ls=(0, (1, 3)), zorder=3)
    ax.axvline(7, color=C_DEEP, lw=2.3, ls=(0, (1, 3)), zorder=3)
    if len(trend) > 2:
        tdf = pd.DataFrame(trend, columns=["depth", "ratio"])
        sns.lineplot(data=tdf, x="depth", y="ratio", ax=ax, color=C_TREND, lw=7,
                     sort=False, estimator=None, solid_capstyle="round", zorder=4)
    elif trend:
        tdf = pd.DataFrame(trend, columns=["depth", "ratio"])
        sns.scatterplot(data=tdf, x="depth", y="ratio", ax=ax, color=C_TREND, s=55,
                        linewidth=0, zorder=4)

    ax.set_xlim(0, 15)
    ax.set_ylim(-1, 1)
    ax.set_xticks([0, 5, 10, 15])
    ax.set_yticks([-1, 0, 1])
    ax.set_yticklabels(["-1", "0", "1"])
    ax.set_ylabel("")
    ax.set_xlabel("Depth (km)" if r == 3 else "", fontsize=16.5, color=C_XAX, labelpad=2)
    ax.set_title(name, fontsize=16.5, fontweight="bold", pad=5)
    ax.tick_params(axis="x", direction="in", length=4, width=1, colors=C_XAX,
                   labelsize=15.5, pad=6)
    ax.tick_params(axis="y", direction="in", length=4, width=1, colors=C_LEFT,
                   labelsize=15.5, pad=5)
    for sp in ("top", "right"):
        ax.spines[sp].set_visible(False)
    ax.spines["left"].set_color(C_LEFT)
    ax.spines["bottom"].set_color(C_XAX)
    ax.spines["left"].set_linewidth(1.1)
    ax.spines["bottom"].set_linewidth(1.1)

    ax2 = ax.twinx()
    vdf = pd.DataFrame({"depth": vel_depth, "vel": vel_kms})
    sns.lineplot(data=vdf, x="depth", y="vel", ax=ax2, color=C_VEL, lw=3.6,
                 drawstyle="steps-post", sort=False, estimator=None)
    ax2.set_ylim(3, 6.5)
    ax2.set_xlim(0, 15)
    ax2.set_yticks([4, 6])
    ax2.set_yticklabels(["4", "6"])
    ax2.tick_params(axis="y", direction="in", length=4, width=1, colors=C_RIGHT,
                    labelsize=15.5, pad=4)
    for sp in ("top", "left", "bottom"):
        ax2.spines[sp].set_visible(False)
    ax2.spines["right"].set_color(C_RIGHT)
    ax2.spines["right"].set_linewidth(1.1)
    ax2.set_xlabel("")
    if c == 3:
        ax2.set_ylabel("Velocity, km/s", fontsize=15.5, color=C_RIGHT, labelpad=1)
    else:
        ax2.set_ylabel("")

fig.text(0.019, 0.487, "High Frequency / Low Frequency amplitude: (15-20) / (2-5) Hz",
         rotation=90, ha="center", va="center", fontsize=18, color=C_LEFT)

fig.text(147 / W, 1 - 72 / H, "Ridgecrest Event Spectra", fontsize=17.8,
         va="baseline", ha="left", color="#111111")
fig.text(147 / W, 1 - 96 / H, "Varying Frequency content with depth in", fontsize=15.2,
         va="baseline", ha="left", color="#111111")
fig.text(147 / W, 1 - 122 / H, "different Magnitude Bins", fontsize=15.2,
         va="baseline", ha="left", color="#111111")

fig.savefig("out.png", dpi=100, facecolor="white")
